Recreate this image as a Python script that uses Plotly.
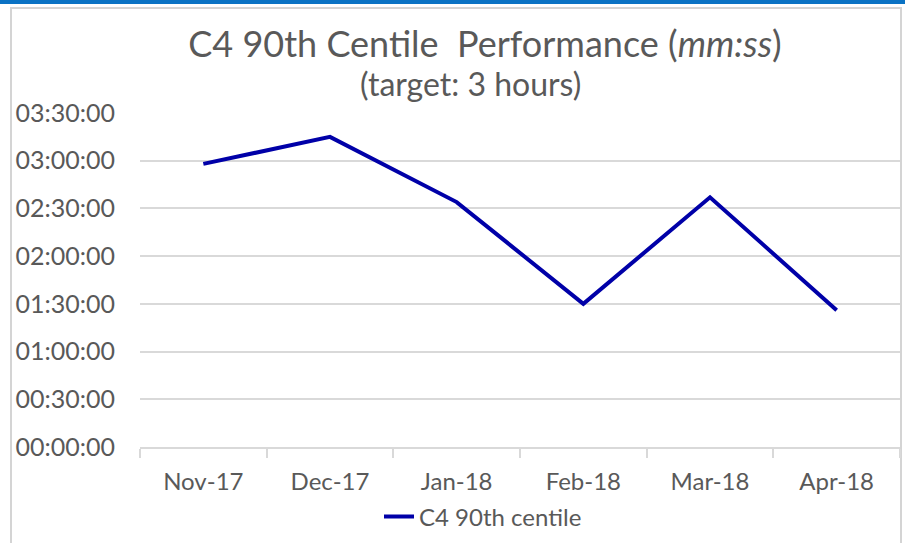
import plotly.graph_objects as go

months = ["Nov-17", "Dec-17", "Jan-18", "Feb-18", "Mar-18", "Apr-18"]
minutes = [178, 195, 154, 90, 157, 86]
series_name = "C4 90th centile"
y_tickvals = [0, 30, 60, 90, 120, 150, 180, 210]
y_ticktext = ["00:00:00", "00:30:00", "01:00:00", "01:30:00",
              "02:00:00", "02:30:00", "03:00:00", "03:30:00"]

W, H = 905, 543
L, R, T, B = 140, 5, 113, 96
FONT = "Lato, 'Open Sans', sans-serif"
GREY = "#595959"

def px2x(px):
    return (px - L) / (W - L - R)

def px2y(py):
    return (H - B - py) / (H - T - B)

fig = go.Figure()
fig.add_trace(go.Scatter(
    x=months, y=minutes, mode="lines", name=series_name,
    line=dict(color="#0000A8", width=4),
))

fig.update_layout(
    width=W, height=H,
    margin=dict(l=L, r=R, t=T, b=B, autoexpand=False),
    paper_bgcolor="white", plot_bgcolor="white",
    font=dict(family=FONT, color=GREY),
    title=dict(
        text="C4 90th Centile  Performance (<i>mm:ss</i>)",
        x=485 / W, xanchor="center", y=1 - 44 / H, yanchor="middle",
        font=dict(size=36, color=GREY, family=FONT),
    ),
    showlegend=True,
    legend=dict(
        orientation="h", x=px2x(379), xanchor="left",
        y=px2y(517), yanchor="middle",
        font=dict(size=24, color=GREY, family=FONT),
        bgcolor="rgba(0,0,0,0)",
    ),
    xaxis=dict(
        type="category", range=[-0.5, len(months) - 0.5],
        showgrid=False, zeroline=False,
        showline=True, linecolor="#d9d9d9", linewidth=1.5,
        ticks="outside", tickson="boundaries", ticklen=9,
        tickcolor="#d9d9d9", tickwidth=1.5,
        tickfont=dict(size=24, color=GREY, family=FONT),
        ticklabelstandoff=12,
        fixedrange=True,
    ),
    yaxis=dict(
        range=[0, 210], tickvals=y_tickvals, ticktext=y_ticktext,
        showgrid=True, gridcolor="#d9d9d9", gridwidth=1.5,
        zeroline=False, showline=False,
        tickfont=dict(size=25, color=GREY, family=FONT),
        ticklabelstandoff=24,
        fixedrange=True,
    ),
)

fig.add_annotation(
    text="(target: 3 hours)", xref="paper", yref="paper",
    x=px2x(470), y=px2y(83), xanchor="center", yanchor="middle",
    showarrow=False, font=dict(size=32, color=GREY, family=FONT),
)

# top blue band and chart-area border
fig.add_shape(type="rect", xref="paper", yref="paper",
              x0=px2x(-5), x1=px2x(W + 5), y0=px2y(4), y1=px2y(-5),
              fillcolor="#0a72c4", line=dict(width=0), layer="below")
fig.add_shape(type="rect", xref="paper", yref="paper",
              x0=px2x(11), x1=px2x(901), y0=px2y(H + 10), y1=px2y(8),
              fillcolor="rgba(0,0,0,0)", line=dict(color="#d4d4d4", width=2),
              layer="below")

fig.write_html(
    "out.html",
    config={"displayModeBar": False},
    post_script="document.body.style.margin='0';document.body.style.overflow='hidden';",
)
